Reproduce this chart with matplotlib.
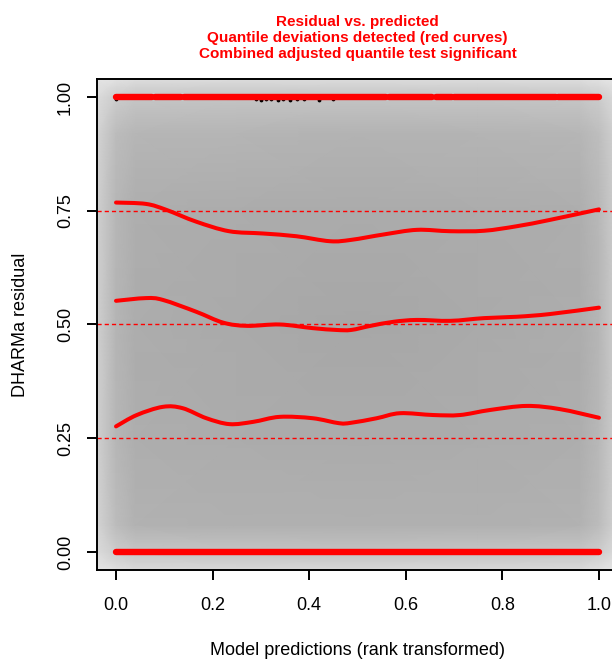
import matplotlib
matplotlib.use("Agg")
import matplotlib.pyplot as plt
from matplotlib.path import Path
from matplotlib.patches import PathPatch
import numpy as np

plt.rcParams['font.family'] = ['Liberation Sans', 'DejaVu Sans']

# quantile regression curves (x = rank transformed prediction)
q75_x = [0.0, 0.062, 0.104, 0.166, 0.234, 0.304, 0.373, 0.443, 0.487, 0.555, 0.623, 0.692, 0.762, 0.830, 0.899, 1.0]
q75_y = [0.768, 0.765, 0.752, 0.726, 0.705, 0.700, 0.694, 0.683, 0.686, 0.698, 0.708, 0.705, 0.706, 0.716, 0.730, 0.753]

q50_x = [0.0, 0.062, 0.097, 0.166, 0.222, 0.271, 0.339, 0.407, 0.456, 0.487, 0.527, 0.575, 0.623, 0.692, 0.762, 0.830, 0.899, 1.0]
q50_y = [0.552, 0.558, 0.554, 0.528, 0.504, 0.497, 0.500, 0.492, 0.488, 0.488, 0.497, 0.506, 0.510, 0.508, 0.514, 0.517, 0.523, 0.537]

q25_x = [0.0, 0.043, 0.097, 0.138, 0.187, 0.235, 0.284, 0.339, 0.407, 0.462, 0.487, 0.540, 0.588, 0.657, 0.712, 0.774, 0.850, 0.919, 1.0]
q25_y = [0.276, 0.301, 0.319, 0.316, 0.294, 0.281, 0.286, 0.297, 0.294, 0.283, 0.284, 0.294, 0.305, 0.301, 0.301, 0.312, 0.321, 0.314, 0.295]

quantiles = [0.25, 0.5, 0.75]

# runs of outlier points (red) at residual 1 and 0
top_runs = [(0.0, 0.075), (0.08, 0.135), (0.14, 0.56), (0.565, 0.655), (0.662, 0.695), (0.70, 0.91), (0.915, 1.0)]
bottom_runs = [(0.0, 1.0)]

# a few non-outlier residuals just under 1
black_x = [0.0, 0.29, 0.30, 0.31, 0.32, 0.335, 0.345, 0.36, 0.375, 0.39, 0.42, 0.45]
black_y = [0.996, 0.995, 0.994, 0.995, 0.996, 0.994, 0.995, 0.994, 0.995, 0.996, 0.994, 0.995]

# smoothed density background (grey level 0-255) on a coarse grid
bg_x = [-0.04, 0.0, 0.04, 0.25, 0.5, 0.75, 0.96, 1.0, 1.04]
bg_y = [-0.04, 0.0, 0.06, 0.25, 0.5, 0.75, 0.92, 1.0, 1.04]
bg_grey = [
    [230, 224, 218, 216, 216, 216, 218, 224, 230],
    [220, 204, 198, 196, 194, 196, 198, 204, 220],
    [212, 188, 178, 176, 176, 176, 178, 188, 212],
    [208, 182, 174, 172, 171, 172, 174, 184, 208],
    [208, 181, 173, 170, 167, 170, 173, 182, 208],
    [208, 182, 174, 172, 171, 172, 174, 184, 208],
    [212, 188, 182, 181, 179, 180, 182, 190, 212],
    [220, 204, 198, 196, 196, 196, 198, 204, 220],
    [230, 226, 222, 220, 220, 220, 222, 226, 230],
]


def smooth_path(xs, ys):
    # cubic Bezier through the read points (Catmull-Rom tangents)
    p = np.column_stack([xs, ys])
    verts = [p[0]]
    codes = [Path.MOVETO]
    for i in range(len(p) - 1):
        p0 = p[i - 1] if i > 0 else p[i]
        p3 = p[i + 2] if i + 2 < len(p) else p[i + 1]
        c1 = p[i] + (p[i + 1] - p0) / 6
        c2 = p[i + 1] - (p3 - p[i]) / 6
        verts += [c1, c2, p[i + 1]]
        codes += [Path.CURVE4] * 3
    return Path(verts, codes)


fig = plt.figure(figsize=(6.12, 6.61), dpi=100)
ax = fig.add_axes([0.158, 0.1374, 0.8523, 0.7434])

X, Y = np.meshgrid(bg_x, bg_y)
ax.pcolormesh(X, Y, np.array(bg_grey), cmap='gray', vmin=0, vmax=255,
              shading='gouraud', zorder=0)

for q in quantiles:
    ax.axhline(q, color='red', lw=1.0, dashes=(3.0, 2.2), zorder=1)

for a, b in top_runs:
    ax.plot([a, b], [1, 1], color='red', lw=4.6, solid_capstyle='round', zorder=2)
for a, b in bottom_runs:
    ax.plot([a, b], [0, 0], color='red', lw=4.6, solid_capstyle='round', zorder=2)
ax.scatter(black_x, black_y, s=3, color='black', zorder=1.5)

for xs, ys in [(q25_x, q25_y), (q50_x, q50_y), (q75_x, q75_y)]:
    ax.add_patch(PathPatch(smooth_path(xs, ys), facecolor='none', edgecolor='red',
                           lw=2.9, capstyle='round', joinstyle='round', zorder=3))

ax.set_xlim(-0.04, 1.04)
ax.set_ylim(-0.04, 1.04)
ax.set_xticks([0, 0.2, 0.4, 0.6, 0.8, 1.0])
ax.set_xticklabels(['0.0', '0.2', '0.4', '0.6', '0.8', '1.0'])
ax.set_yticks([0, 0.25, 0.5, 0.75, 1.0])
ax.set_yticklabels(['0.00', '0.25', '0.50', '0.75', '1.00'], rotation=90, va='center')
ax.tick_params(direction='out', length=7.5, width=1.4, labelsize=13, pad=9)
ax.tick_params(axis='x', pad=12)
for s in ax.spines.values():
    s.set_linewidth(1.4)

ax.set_xlabel("Model predictions (rank transformed)", fontsize=13, labelpad=20)
ax.set_ylabel("DHARMa residual", fontsize=13, labelpad=20)
ax.set_title("Residual vs. predicted\nQuantile deviations detected (red curves)\n"
             "Combined adjusted quantile test significant",
             color='red', fontweight='bold', fontsize=11, linespacing=1.2, pad=15)

fig.savefig("out.png", dpi=100)
